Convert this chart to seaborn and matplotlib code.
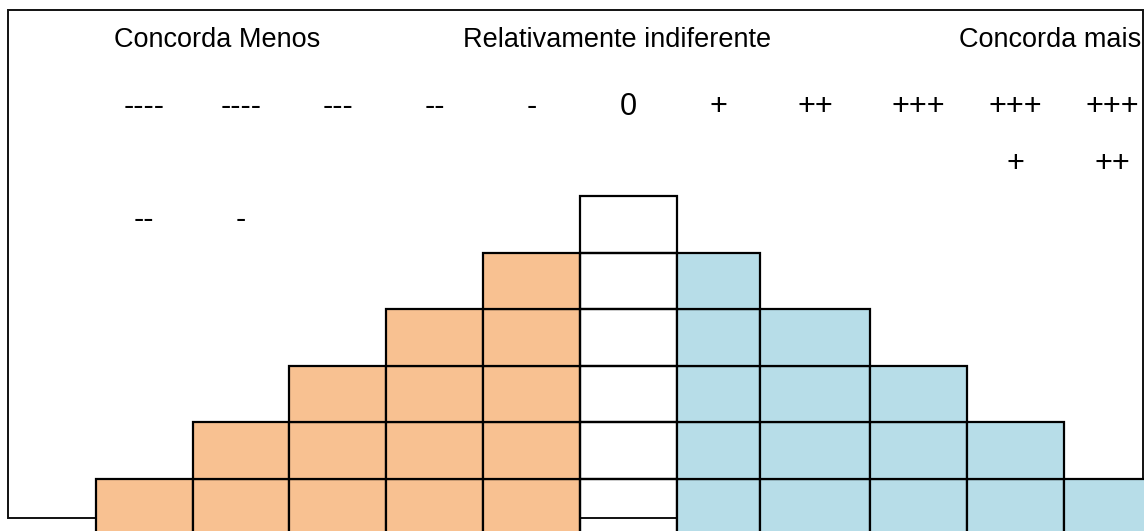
import numpy as np
import matplotlib; matplotlib.use("Agg")
import matplotlib.pyplot as plt
import seaborn as sns

sns.set_theme(style="white")
plt.rcParams["font.family"] = ["Liberation Sans", "DejaVu Sans"]
plt.rcParams["text.color"] = "black"

# ---------- data: Q-sort grid ----------
counts = [1, 2, 3, 4, 5, 6, 5, 4, 3, 2, 1]          # cells per column, left to right
groups = ["menos"] * 5 + ["neutro"] + ["mais"] * 5
line1 = ["----", "----", "---", "--", "-", "0", "+", "++", "+++", "+++", "+++"]
line2 = [""] * 9 + ["+", "++"]
line3 = ["--", "-"] + [""] * 9
headers = ["Concorda Menos", "Relativamente indiferente", "Concorda mais"]

# ---------- layout (pixels) ----------
W, H = 1144, 531
edges = np.array([96, 192.5, 289, 386, 483, 580, 677, 760, 870, 967, 1064, 1161])
ROW_H, BASE = 56.6, 535.6
def py(p):  # pixel row -> grid units
    return (BASE - p) / ROW_H

colors = {"menos": "#F8C191", "neutro": "none", "mais": "#B7DDE8"}

fig = plt.figure(figsize=(W / 100, H / 100), dpi=100)
ax = fig.add_axes([0, 0, 1, 1])
ax.set_xlim(0, W); ax.set_ylim(py(H), py(0))
ax.axis("off")

# outer frame
ax.add_patch(plt.Rectangle((8, py(518)), 1143 - 8, py(10) - py(518),
                           fill=False, lw=1.4, ec="#111111", zorder=1))

# stacked cells, one layer per row
lefts, widths = edges[:-1], np.diff(edges)
for k in range(max(counts)):
    sel = [i for i, c in enumerate(counts) if c > k]
    ax.bar(lefts[sel], 1, width=widths[sel], bottom=k, align="edge",
           color=[colors[groups[i]] for i in sel], edgecolor="black",
           linewidth=1.6, zorder=2)

# labels
centers = (edges[:-1] + edges[1:]) / 2
for row, yb in zip([line1, line2, line3], [115, 172, 228]):
    for x, s in zip(centers, row):
        if s:
            ax.text(x, py(yb), s, ha="center", va="baseline", fontsize=22, color="black")

ax.text(217, py(47), headers[0], ha="center", va="baseline", fontsize=19.5, color="black")
ax.text(617, py(47), headers[1], ha="center", va="baseline", fontsize=19.5, color="black")
ax.text(1141, py(47), headers[2], ha="right", va="baseline", fontsize=19.5, color="black")

fig.savefig("out.png", dpi=100, facecolor="white")
plt.close(fig)
